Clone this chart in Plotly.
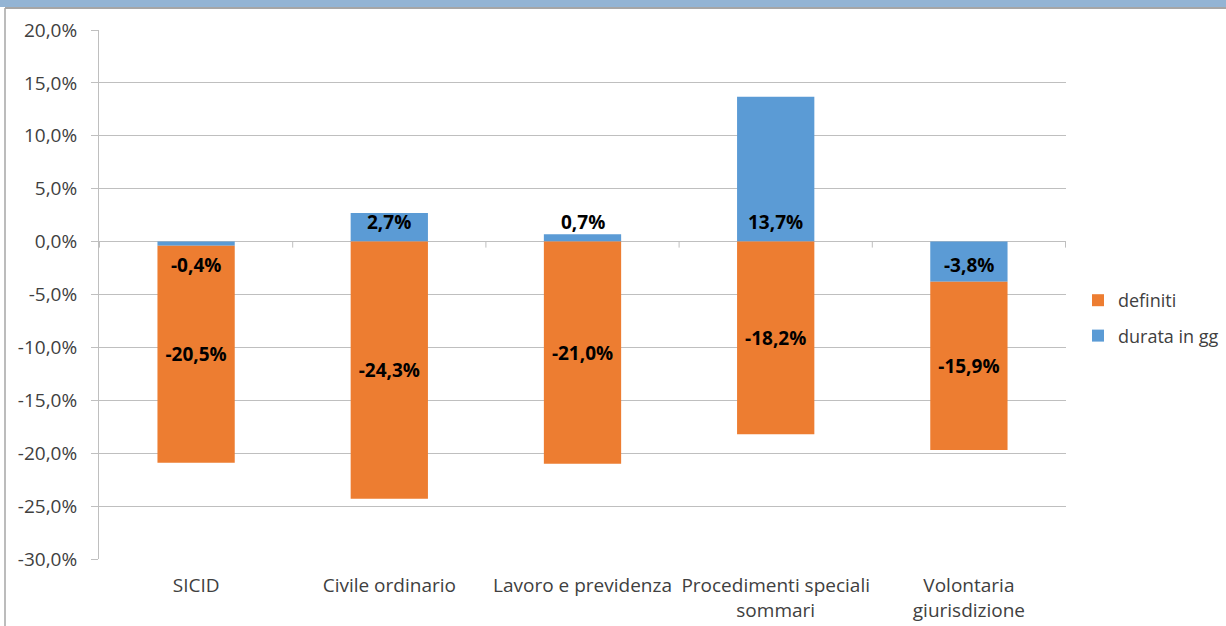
import plotly.graph_objects as go

categories = ["SICID", "Civile ordinario", "Lavoro e previdenza",
              "Procedimenti speciali<br>sommari", "Volontaria<br>giurisdizione"]
definiti = [-20.5, -24.3, -21.0, -18.2, -15.9]
durata = [-0.4, 2.7, 0.7, 13.7, -3.8]
y_ticks = [20, 15, 10, 5, 0, -5, -10, -15, -20, -25, -30]

ORANGE = "#ED7D31"
BLUE = "#5B9BD5"
GRID = "#BFBFBF"
FONT = "Open Sans"
FS = 19

def fmt(v):
    return f"{v:.1f}%".replace(".", ",")

fig = go.Figure()
# blue first so that it stacks next to zero
fig.add_trace(go.Bar(
    x=categories, y=durata, name="durata in gg", marker_color=BLUE,
    marker_line_width=0, legendrank=2, legendgroup="b", hoverinfo="y",
))
fig.add_trace(go.Bar(
    x=categories, y=definiti, name="definiti", marker_color=ORANGE,
    marker_line_width=0, legendrank=1, legendgroup="a",
    text=[fmt(v) for v in definiti], textposition="inside",
    insidetextanchor="middle", textangle=0,
    textfont=dict(family=FONT, size=FS, color="black", weight="bold"),
))

annotations = []
for c, v in zip(categories, durata):
    annotations.append(dict(
        x=c, y=0, xref="x", yref="y", text=f"<b>{fmt(v)}</b>", showarrow=False,
        yshift=20 if v > 0 else -23,
        font=dict(family=FONT, size=FS, color="black"),
    ))

shapes = []
n = len(categories)
for i in range(n + 1):
    shapes.append(dict(
        type="line", xref="x", yref="y", x0=i - 0.5, x1=i - 0.5,
        ysizemode="pixel", yanchor=0, y0=0, y1=-6,
        line=dict(color=GRID, width=1),
    ))

# frame decorations (paper coords)
L, R, T, B = 99, 160, 30, 67
PW, PH = 1226 - L - R, 626 - T - B
def px(xp):
    return (xp - L) / PW
def py(yp):
    return (626 - B - yp) / PH
shapes.append(dict(type="rect", xref="paper", yref="paper",
                   x0=px(0), x1=px(1226), y0=py(7), y1=py(-2),
                   fillcolor="#93B4D4", line_width=0, layer="below"))
shapes.append(dict(type="line", xref="paper", yref="paper",
                   x0=px(5), x1=px(1226), y0=py(8), y1=py(8),
                   line=dict(color="#A6A6A6", width=2)))
shapes.append(dict(type="line", xref="paper", yref="paper",
                   x0=px(5), x1=px(5), y0=py(8), y1=py(630),
                   line=dict(color="#A6A6A6", width=1.5)))

fig.update_layout(
    barmode="relative",
    bargap=0.6,
    width=1226, height=626,
    margin=dict(l=L, r=R, t=T, b=B, autoexpand=False),
    paper_bgcolor="white", plot_bgcolor="white",
    separators=",.",
    font=dict(family=FONT, size=FS, color="#404040"),
    showlegend=True,
    legend=dict(x=px(1078), y=py(318), yanchor="middle", xanchor="left",
                font=dict(family=FONT, size=18, color="#404040"),
                traceorder="grouped", tracegroupgap=9,
                itemwidth=30, bgcolor="rgba(0,0,0,0)"),
    annotations=annotations,
    shapes=shapes,
    uniformtext=dict(minsize=FS, mode="show"),
)
fig.update_yaxes(
    range=[-30, 20], tickvals=y_ticks, ticktext=[fmt(v) for v in y_ticks],
    showgrid=True, gridcolor=GRID, gridwidth=1,
    zeroline=True, zerolinecolor=GRID, zerolinewidth=1,
    showline=True, linecolor=GRID, linewidth=1,
    ticks="outside", ticklen=7, tickcolor=GRID, ticklabelstandoff=10,
    tickfont=dict(family=FONT, size=FS, color="#404040"),
    automargin=False,
)
fig.update_xaxes(
    showline=False, showgrid=False, zeroline=False,
    ticks="outside", ticklen=9, tickcolor="rgba(0,0,0,0)",
    tickfont=dict(family=FONT, size=FS, color="#404040"),
    automargin=False,
)

fig.write_html("out.html", post_script="document.body.style.margin='0';",
               config={"displayModeBar": False})
